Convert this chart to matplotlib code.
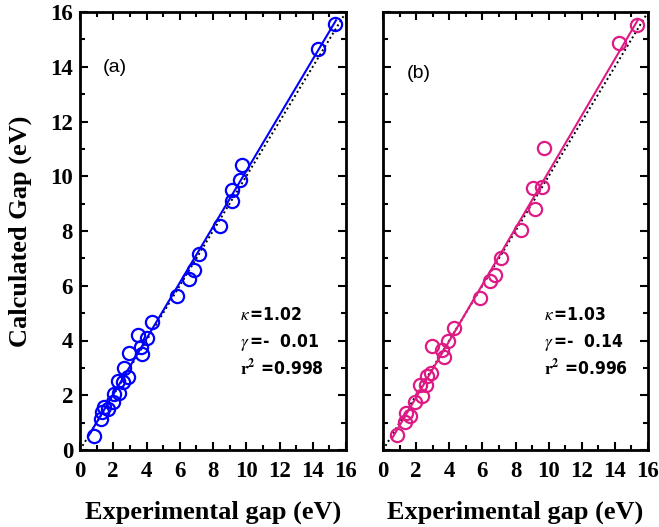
import matplotlib
matplotlib.use("Agg")
import matplotlib.pyplot as plt
import numpy as np
from matplotlib.ticker import MultipleLocator
from matplotlib import font_manager
from matplotlib.font_manager import FontProperties

plt.rcParams['mathtext.fontset'] = 'stix'

# Panel (a) data
exp_a = [15.36, 14.30, 9.72, 9.60, 9.13, 9.16, 8.40, 7.13, 6.83, 6.53, 5.86, 4.34, 3.51, 4.02,
         3.67, 3.75, 2.97, 2.67, 2.91, 2.31, 2.57, 2.37, 2.07, 1.97, 1.71, 1.45, 1.31, 1.27, 0.84]
calc_a = [15.55, 14.66, 10.40, 9.85, 9.49, 9.10, 8.19, 7.15, 6.57, 6.24, 5.63, 4.68, 4.20, 4.08,
          3.77, 3.50, 3.53, 2.98, 2.68, 2.52, 2.49, 2.10, 2.03, 1.74, 1.49, 1.58, 1.40, 1.13, 0.52]
# Panel (b) data
exp_b = [15.36, 14.27, 9.72, 9.58, 9.08, 9.16, 8.33, 7.13, 6.76, 6.46, 5.86, 4.31, 3.95, 2.94,
         3.55, 3.69, 2.90, 2.64, 2.24, 2.58, 2.34, 1.93, 1.37, 1.63, 1.33, 0.83]
calc_b = [15.51, 14.87, 11.05, 9.61, 9.57, 8.80, 8.03, 7.00, 6.39, 6.18, 5.57, 4.44, 3.99, 3.80,
          3.67, 3.41, 2.80, 2.70, 2.37, 2.37, 1.98, 1.76, 1.34, 1.25, 1.03, 0.55]

kappa = [1.02, 1.03]
gamma = [-0.01, -0.14]
r2 = ["0.998", "0.996"]
labels = ["(a)", "(b)"]
colors = ["#0000ff", "#de1a84"]
tick_vals = [0, 2, 4, 6, 8, 10, 12, 14, 16]

# look for a condensed bold sans font
cond_path = None
for f in font_manager.fontManager.ttflist:
    n = (f.name + " " + str(f.stretch) + " " + f.fname).lower()
    w = f.weight if isinstance(f.weight, int) else 400
    if ("narrow" in n or "condensed" in n) and w >= 600 and "mono" not in n and "serif" not in f.name.lower():
        cond_path = f.fname
        break
if cond_path:
    ann_fp = FontProperties(fname=cond_path, size=12.5)
else:
    ann_fp = FontProperties(family='Liberation Sans', weight='bold', size=11.5)

fig = plt.figure(figsize=(6.59, 5.27), dpi=100)
W, H = 659, 527
axes = [fig.add_axes([80 / W, (H - 450) / H, 266 / W, 438 / H]),
        fig.add_axes([383 / W, (H - 450) / H, 265 / W, 438 / H])]

datasets = [(exp_a, calc_a), (exp_b, calc_b)]
serif = 'Liberation Serif'
ann_x = [9.6, 9.74]
lab_pos = [(0.085, 0.862), (0.09, 0.85)]

for i, ax in enumerate(axes):
    ex, ca = datasets[i]
    c = colors[i]
    xx = np.array([0, 16])
    ax.plot(xx, xx, linestyle=(0, (1, 1.5)), color='black', lw=1.4, zorder=2)
    xf = np.array([0.55, 15.4])
    ax.plot(xf, kappa[i] * xf + gamma[i], color=c, lw=1.5, zorder=3)
    ax.plot(ex, ca, 'o', mfc='none', mec=c, mew=1.6, ms=9.5, zorder=4)
    ax.set_xlim(0, 16)
    ax.set_ylim(0, 16)
    ax.set_xticks(tick_vals)
    ax.set_yticks(tick_vals)
    ax.xaxis.set_minor_locator(MultipleLocator(1))
    ax.yaxis.set_minor_locator(MultipleLocator(1))
    ax.tick_params(which='both', direction='in', top=True, right=True, width=1.5)
    ax.tick_params(which='major', length=6)
    ax.tick_params(which='minor', length=3.5)
    ax.tick_params(axis='x', which='major', pad=8)
    ax.tick_params(axis='y', which='major', pad=5)
    for s in ax.spines.values():
        s.set_linewidth(2)
    for lab in ax.get_xticklabels() + ax.get_yticklabels():
        lab.set_fontfamily(serif)
        lab.set_fontweight('bold')
        lab.set_fontsize(16.5)
    ax.set_xlabel("Experimental gap (eV)", fontfamily=serif, fontweight='bold', fontsize=19, labelpad=13)
    ax.text(lab_pos[i][0], lab_pos[i][1], labels[i], transform=ax.transAxes, fontsize=14,
            fontfamily='Liberation Sans')
    # fit stats
    ax.text(ann_x[i], 4.93, r"$\kappa\,$" + f"={kappa[i]:.2f}", fontproperties=ann_fp, va='center')
    ax.text(ann_x[i], 3.94, r"$\gamma\,$" + f"=-  {abs(gamma[i]):.2f}", fontproperties=ann_fp, va='center')
    ax.text(ann_x[i], 2.99, r"$\mathbf{r}^{\mathbf{2}}$" + f" ={r2[i]}", fontproperties=ann_fp, va='center')

axes[1].tick_params(labelleft=False)
axes[0].set_ylabel("Calculated Gap (eV)", fontfamily=serif, fontweight='bold', fontsize=19, labelpad=13)

fig.savefig("out.png", dpi=100)
